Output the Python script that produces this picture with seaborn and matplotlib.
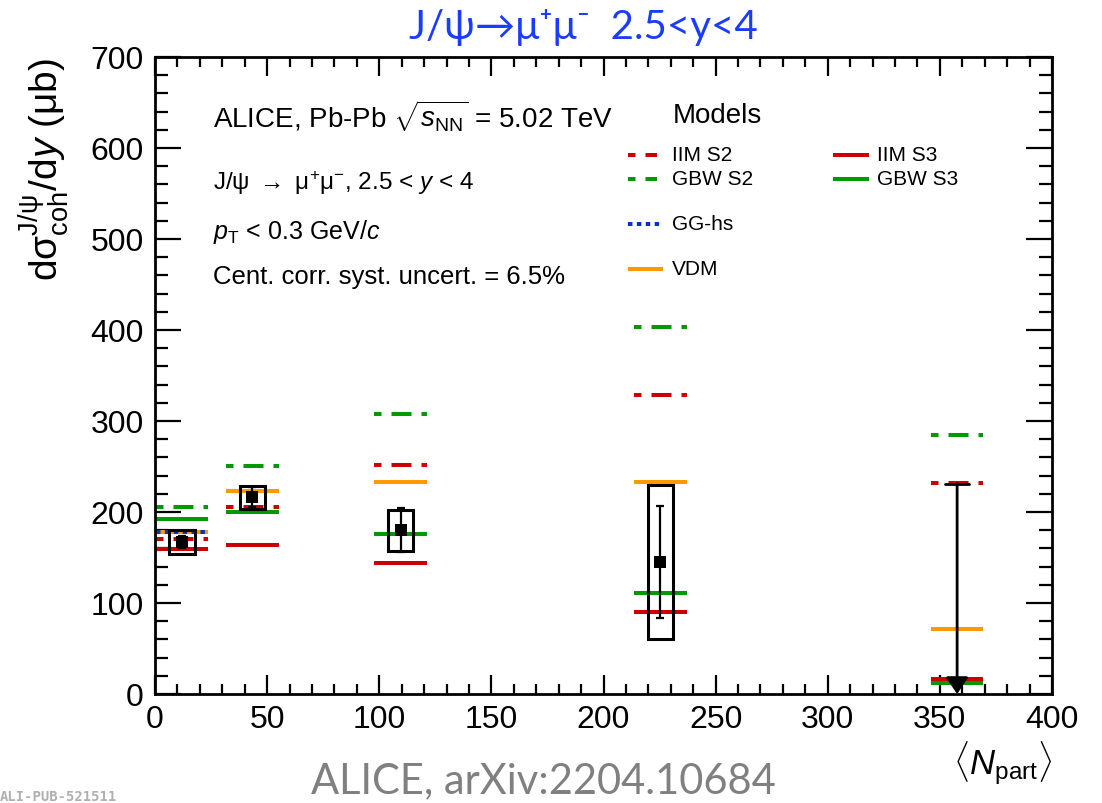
import numpy as np
import pandas as pd
import matplotlib
matplotlib.use("Agg")
import matplotlib.pyplot as plt
from matplotlib.patches import Rectangle
from matplotlib.ticker import MultipleLocator
import seaborn as sns

# ---- data -------------------------------------------------------------
# centrality classes, expressed as mean number of participants
npart = [12.0, 43.4, 109.5, 225.4, 357.7]

# measured coherent J/psi cross section (mub)
sigma = [167.0, 216.0, 180.0, 145.0, np.nan]
stat_err = [7.0, 11.0, 24.5, 62.0, np.nan]
syst_err = [13.5, 13.0, 22.5, 85.0, np.nan]
upper_limit = [np.nan, np.nan, np.nan, np.nan, 231.0]

# model predictions (mub)
iim_s2 = [170.0, 205.0, 252.0, 329.0, 232.0]
iim_s3 = [159.0, 164.0, 144.0, 90.0, 16.5]
gbw_s2 = [205.0, 250.0, 308.0, 403.0, 285.0]
gbw_s3 = [192.0, 200.0, 176.0, 111.0, 12.0]
gg_hs = [178.0, np.nan, np.nan, np.nan, np.nan]
vdm = [178.0, 223.0, 233.0, 233.0, 71.0]

x_ticks = [0, 50, 100, 150, 200, 250, 300, 350, 400]
y_ticks = [0, 100, 200, 300, 400, 500, 600, 700]

# ---- style ------------------------------------------------------------
sns.set_theme(style="ticks")
plt.rcParams["font.family"] = ["Liberation Sans", "DejaVu Sans"]
plt.rcParams["mathtext.fontset"] = "custom"
plt.rcParams["mathtext.rm"] = "Liberation Sans"
plt.rcParams["mathtext.it"] = "Liberation Sans:italic"
plt.rcParams["mathtext.sf"] = "Liberation Sans"
plt.rcParams["mathtext.bf"] = "Liberation Sans:bold"
plt.rcParams["lines.scale_dashes"] = False
for key in ("text.color", "axes.labelcolor", "xtick.color", "ytick.color",
            "xtick.labelcolor", "ytick.labelcolor", "axes.edgecolor"):
    plt.rcParams[key] = "black"

RED = "#cc0000"
GREEN = "#009900"
BLUE = "#0033cc"
ORANGE = "#ff9900"

DASH = (9.0, (14.4, 7.2))
DOT = (0.0, (3.2, 3.2))

models = [
    ("IIM S2", iim_s2, RED, DASH),
    ("GBW S2", gbw_s2, GREEN, DASH),
    ("VDM", vdm, ORANGE, "-"),
    ("GG-hs", gg_hs, BLUE, DOT),
    ("IIM S3", iim_s3, RED, "-"),
    ("GBW S3", gbw_s3, GREEN, "-"),
]

fig = plt.figure(figsize=(11.02, 8.04), dpi=100)
ax = fig.add_axes([0.1407, 0.1356, 0.8139, 0.7923])

# model predictions: one horizontal segment per centrality class
HW = 11.7
for name, vals, col, ls in models:
    for xc, v in zip(npart, vals):
        if np.isnan(v):
            continue
        ax.plot([xc - HW, xc + HW], [v, v], color=col, ls=ls, lw=2.9,
                solid_capstyle="butt", dash_capstyle="butt", zorder=2)

# systematic uncertainty boxes
BW = 5.6
for xc, y, s in zip(npart, sigma, syst_err):
    if np.isnan(y):
        continue
    ax.add_patch(Rectangle((xc - BW, y - s), 2 * BW, 2 * s, fill=False,
                           ec="black", lw=2.2, zorder=4))

# statistical uncertainties
ax.errorbar(npart, sigma, yerr=stat_err, fmt="none", ecolor="black",
            elinewidth=1.6, capsize=3, capthick=1.6, zorder=5)

# measured points
df = pd.DataFrame({"npart": npart, "sigma": sigma})
sns.scatterplot(data=df.dropna(), x="npart", y="sigma", marker="s",
                color="black", s=70, edgecolor="black", linewidth=0,
                legend=False, ax=ax, zorder=6)

# upper limit in the most central class
for xc, ul in zip(npart, upper_limit):
    if np.isnan(ul):
        continue
    ax.plot([xc - 5.3, xc + 5.3], [ul, ul], color="black", lw=2.0, zorder=6)
    ax.annotate("", xy=(xc, 0), xytext=(xc, ul),
                arrowprops=dict(arrowstyle="-|>,head_length=0.5,head_width=0.34",
                                color="black", lw=2.0, shrinkA=0, shrinkB=0,
                                mutation_scale=20),
                zorder=7, annotation_clip=False)

# ---- axes -------------------------------------------------------------
ax.set_xlim(0, 400)
ax.set_ylim(0, 700)
ax.set_xticks(x_ticks)
ax.set_yticks(y_ticks)
ax.xaxis.set_minor_locator(MultipleLocator(10))
ax.yaxis.set_minor_locator(MultipleLocator(20))
ax.tick_params(which="both", direction="in", top=True, right=True,
               color="black", width=1.6)
ax.tick_params(axis="x", which="major", length=13.5, pad=7, labelsize=23)
ax.tick_params(axis="x", which="minor", length=7)
ax.tick_params(axis="y", which="major", length=18.5, pad=8, labelsize=23)
ax.tick_params(axis="y", which="minor", length=9.3)
for sp in ax.spines.values():
    sp.set_linewidth(2.0)
    sp.set_color("black")
    sp.set_visible(True)

ax.set_xlabel(r"$\langle N_{\rm part}\rangle$", fontsize=25, loc="right",
              labelpad=3)
ax.set_ylabel(r"d$\mathrm{\sigma}^{\rm J/\mathrm{\psi}}_{\rm coh}$/d$y$ ($\mathrm{\mu}$b)",
              fontsize=28, loc="top", labelpad=14)


def axpos(px, py):
    return (px - 155) / 897, (695 - py) / 637


# ---- annotations ------------------------------------------------------
info = [
    (r"ALICE, Pb-Pb $\sqrt{s_{\rm NN}}$ = 5.02 TeV", 116, 20),
    (r"J/$\mathrm{\psi}$ $\rightarrow$ $\mathrm{\mu}^{+}\mathrm{\mu}^{-}$, 2.5 < $y$ < 4", 183, 17.5),
    (r"$p_{\rm T}$ < 0.3 GeV/$c$", 232, 18),
    ("Cent. corr. syst. uncert. = 6.5%", 277, 18.5),
]
for txt, py, fs in info:
    ax.text(*axpos(213, py), txt, transform=ax.transAxes, fontsize=fs,
            ha="left", va="center")

ax.text(*axpos(673, 116), "Models", transform=ax.transAxes, fontsize=20,
        ha="left", va="center")

legend_rows = [
    ("IIM S2", RED, DASH, 628, 657, 672, 156),
    ("GBW S2", GREEN, DASH, 628, 657, 672, 180),
    ("GG-hs", BLUE, DOT, 628, 663, 672, 225),
    ("VDM", ORANGE, "-", 628, 663, 672, 270),
    ("IIM S3", RED, "-", 833, 869, 877, 156),
    ("GBW S3", GREEN, "-", 833, 869, 877, 180),
]
for name, col, ls, x0, x1, xt, py in legend_rows:
    a0 = axpos(x0, py)
    a1 = axpos(x1, py)
    ax.plot([a0[0], a1[0]], [a0[1], a1[1]], color=col, ls=ls, lw=2.9,
            transform=ax.transAxes, clip_on=False,
            solid_capstyle="butt", dash_capstyle="butt")
    ax.text(*axpos(xt, py), name, transform=ax.transAxes, fontsize=15,
            ha="left", va="center")

# headline and reference
fig.text(583 / 1102, 1 - 28 / 804, "J/ψ→μ⁺μ⁻  2.5<y<4", color="#1a3cff",
         fontsize=29, ha="center", va="center",
         family=["Lato", "DejaVu Sans"])
fig.text(543 / 1102, 1 - 781 / 804, "ALICE, arXiv:2204.10684", color="#808080",
         fontsize=30, ha="center", va="center",
         family=["Lato", "DejaVu Sans"])
fig.text(0.0, 0.0, "ALI-PUB-521511", color="#b0b0b0",
         fontsize=10, ha="left", va="bottom", fontweight="bold",
         family=["DejaVu Sans Mono"])

fig.savefig("out.png", dpi=100)
